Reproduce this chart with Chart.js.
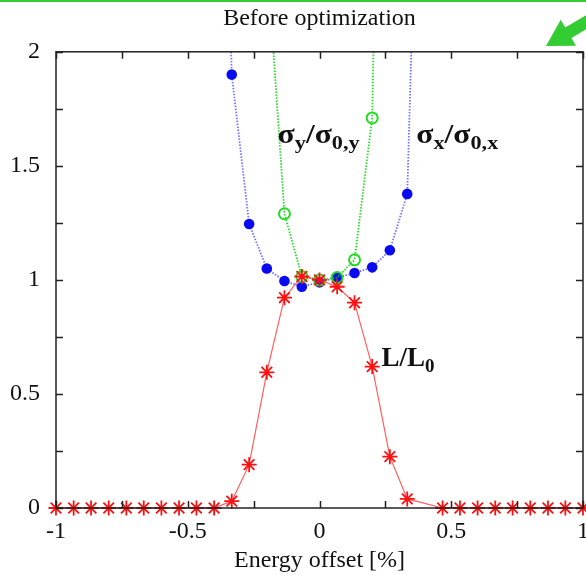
<!DOCTYPE html>
<html>
<head>
<meta charset="utf-8">
<script src="https://cdn.jsdelivr.net/npm/chart.js@4.4.0/dist/chart.umd.min.js"></script>
<style>
  html, body { margin: 0; padding: 0; background: #fff; overflow: hidden; }
  #wrap { position: relative; width: 600px; height: 575px; }
</style>
</head>
<body>
<div id="wrap"><canvas id="plot"></canvas></div>
<script>
const titleText = "Before optimization";
const xTitle = "Energy offset [%]";

// sigma_x / sigma_0,x  (blue filled circles)
const sxX = [-0.4, -0.333, -0.267, -0.2, -0.133, -0.067, 0, 0.067, 0.133, 0.2, 0.267, 0.333, 0.4];
const sxY = [4.8, 1.90, 1.245, 1.05, 0.995, 0.97, 0.99, 1.01, 1.03, 1.055, 1.13, 1.377, 4.1];

// sigma_y / sigma_0,y  (green open circles)
const syX = [-0.2, -0.133, -0.067, 0, 0.067, 0.133, 0.2, 0.267];
const syY = [2.43, 1.29, 1.015, 1.0, 1.01, 1.088, 1.71, 6.0];

// L / L0  (red stars)
const lumX = [-1, -0.933, -0.867, -0.8, -0.733, -0.667, -0.6, -0.533, -0.467, -0.4,
  -0.333, -0.267, -0.2, -0.133, -0.067, 0, 0.067, 0.133, 0.2, 0.267, 0.333,
  0.467, 0.533, 0.6, 0.667, 0.733, 0.8, 0.867, 0.933, 1];
const lumY = [0, 0, 0, 0, 0, 0, 0, 0, 0, 0,
  0.03, 0.19, 0.595, 0.922, 1.015, 1.0, 0.97, 0.9, 0.62, 0.225, 0.04,
  0, 0, 0, 0, 0, 0, 0, 0, 0];

const xRange = [-1, 1];
const yRange = [0, 2];
const tickStep = 0.25;

function pts(xs, ys) {
  return xs.map((v, i) => ({ x: v, y: ys[i] }));
}

function isHalf(v) {
  return Math.abs(v * 2 - Math.round(v * 2)) < 1e-9;
}

const serif = "'Liberation Serif', 'Times New Roman', serif";

// frame, inward ticks, curve labels and the green arrow
const decor = {
  id: "decor",
  afterDatasetsDraw(chart) {
    const { ctx, chartArea: a, scales } = chart;
    const x = scales.x, y = scales.y;
    ctx.save();
    ctx.strokeStyle = "#222";
    ctx.lineWidth = 1.5;
    ctx.strokeRect(a.left, a.top, a.right - a.left, a.bottom - a.top);

    const tl = 7;
    ctx.beginPath();
    x.ticks.forEach((t) => {
      const px = Math.round(x.getPixelForValue(t.value)) + 0.5;
      ctx.moveTo(px, a.bottom); ctx.lineTo(px, a.bottom - tl);
      ctx.moveTo(px, a.top); ctx.lineTo(px, a.top + tl);
    });
    y.ticks.forEach((t) => {
      const py = Math.round(y.getPixelForValue(t.value)) + 0.5;
      ctx.moveTo(a.left, py); ctx.lineTo(a.left + tl, py);
      ctx.moveTo(a.right, py); ctx.lineTo(a.right - tl, py);
    });
    ctx.stroke();

    // curve labels with subscripts (sigma labels are a bit wider in the original)
    const labels = [
      { parts: [["σ", 0], ["y", 1], ["/σ", 0], ["0,y", 1]], x: -0.159, y: 1.6, sx: 1.17 },
      { parts: [["σ", 0], ["x", 1], ["/σ", 0], ["0,x", 1]], x: 0.367, y: 1.6, sx: 1.17 },
      { parts: [["L/L", 0], ["0", 1]], x: 0.235, y: 0.623, sx: 1 }
    ];
    ctx.fillStyle = "#111";
    ctx.textBaseline = "alphabetic";
    ctx.textAlign = "left";
    labels.forEach((lab) => {
      const ox = x.getPixelForValue(lab.x);
      const oy = y.getPixelForValue(lab.y);
      ctx.save();
      ctx.translate(ox, oy);
      ctx.scale(lab.sx, 1);
      let px = 0;
      lab.parts.forEach(([txt, sub]) => {
        ctx.font = sub ? "bold 19px " + serif : "bold 27px " + serif;
        ctx.fillText(txt, px, sub ? 6 : 0);
        px += ctx.measureText(txt).width;
      });
      ctx.restore();
    });
    ctx.restore();

    // green pointer arrow and top rule
    ctx.save();
    ctx.fillStyle = "#33cc33";
    ctx.fillRect(0, 0, chart.width, 2);
    const tip = [546, 46], tail = [600, 14];
    const dx = tail[0] - tip[0], dy = tail[1] - tip[1];
    const len = Math.hypot(dx, dy);
    const ux = dx / len, uy = dy / len, nx = -uy, ny = ux;
    const hl = 26, hw = 15, sw = 6;
    const bx = tip[0] + ux * hl, by = tip[1] + uy * hl;
    ctx.beginPath();
    ctx.moveTo(tip[0], tip[1]);
    ctx.lineTo(bx + nx * hw, by + ny * hw);
    ctx.lineTo(bx + nx * sw, by + ny * sw);
    ctx.lineTo(tail[0] + nx * sw, tail[1] + ny * sw);
    ctx.lineTo(tail[0] - nx * sw, tail[1] - ny * sw);
    ctx.lineTo(bx - nx * sw, by - ny * sw);
    ctx.lineTo(bx - nx * hw, by - ny * hw);
    ctx.closePath();
    ctx.fill();
    ctx.restore();
  }
};

const ctx = document.getElementById("plot").getContext("2d");

new Chart(ctx, {
  type: "scatter",
  data: {
    datasets: [
      {
        label: "L/L0",
        data: pts(lumX, lumY),
        showLine: true,
        borderColor: "rgba(255, 40, 40, 0.75)",
        borderWidth: 1.2,
        pointStyle: "star",
        pointRadius: 7.5,
        pointBorderWidth: 1.8,
        pointBorderColor: "#ff1010",
        pointBackgroundColor: "#ff1010",
        clip: { left: 10, right: 10, top: 0, bottom: 10 },
        order: 1
      },
      {
        label: "sigma_y",
        data: pts(syX, syY),
        showLine: true,
        borderColor: "rgba(0, 210, 0, 0.85)",
        borderWidth: 1.8,
        borderDash: [1.5, 1.5],
        pointStyle: "circle",
        pointRadius: 5.5,
        pointBorderWidth: 2,
        pointBorderColor: "#22dd22",
        pointBackgroundColor: "rgba(0,0,0,0)",
        order: 2
      },
      {
        label: "sigma_x",
        data: pts(sxX, sxY),
        showLine: true,
        borderColor: "rgba(20, 20, 255, 0.6)",
        borderWidth: 1.8,
        borderDash: [1.5, 1.5],
        pointStyle: "circle",
        pointRadius: 5.3,
        pointBorderWidth: 0,
        pointBackgroundColor: "#0a0af0",
        order: 3
      }
    ]
  },
  options: {
    responsive: true,
    maintainAspectRatio: false,
    animation: false,
    layout: { padding: { left: 0, right: 17, top: 0, bottom: 0 } },
    plugins: {
      legend: { display: false },
      tooltip: { enabled: false },
      title: {
        display: true,
        text: titleText,
        fullSize: false,
        color: "#111",
        font: { family: serif, size: 24, weight: "normal" },
        padding: { top: 4, bottom: 19 }
      }
    },
    scales: {
      x: {
        type: "linear",
        min: xRange[0],
        max: xRange[1],
        grid: { display: false, drawTicks: false },
        border: { display: false },
        ticks: {
          stepSize: tickStep,
          autoSkip: false,
          maxRotation: 0,
          padding: 9,
          color: "#111",
          font: { family: serif, size: 24 },
          callback: (v) => (isHalf(v) ? String(v) : "")
        },
        title: {
          display: true,
          text: xTitle,
          color: "#111",
          font: { family: serif, size: 24 },
          padding: { top: 0, bottom: 0 }
        },
        afterFit: (s) => { s.height = 67; }
      },
      y: {
        type: "linear",
        min: yRange[0],
        max: yRange[1],
        grid: { display: false, drawTicks: false },
        border: { display: false },
        ticks: {
          stepSize: tickStep,
          autoSkip: false,
          padding: 16,
          color: "#111",
          font: { family: serif, size: 24 },
          callback: (v) => (isHalf(v) ? String(v) : "")
        },
        afterFit: (s) => { s.width = 56; }
      }
    }
  },
  plugins: [decor]
});
</script>
</body>
</html>
